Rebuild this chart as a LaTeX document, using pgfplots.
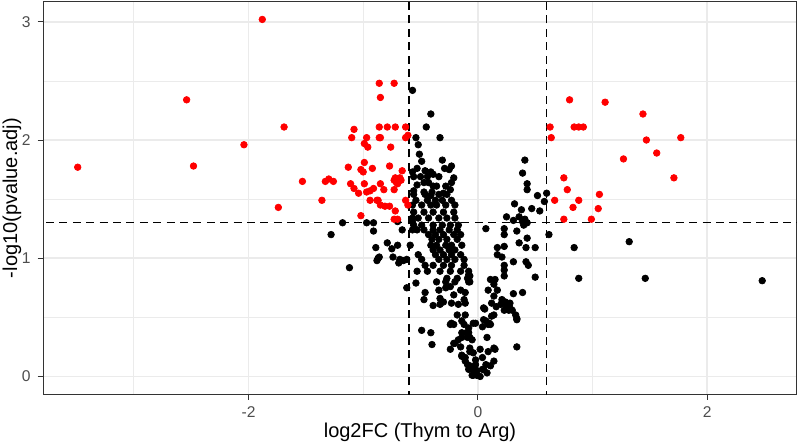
\documentclass[border=0pt]{standalone}
\usepackage{fontspec}
\setmainfont{Liberation Sans}
\usepackage{pgfplots}
\pgfplotsset{compat=1.18}
\definecolor{grid92}{HTML}{EBEBEB}
\definecolor{gray30}{HTML}{4D4D4D}
\definecolor{gray20}{HTML}{333333}
\definecolor{ptred}{HTML}{FF0000}
\begin{document}
\begin{tikzpicture}
\useasboundingbox (-21.65pt,-25.35pt) rectangle (378.35pt,197.15pt);
\begin{axis}[
  scale only axis, width=376.65pt, height=196.3pt,
  xmin=-3.79, xmax=2.78, ymin=-0.151, ymax=3.17,
  xtick={-2,0,2}, minor xtick={-3,-1,1},
  ytick={0,1,2,3}, minor ytick={0.5,1.5,2.5},
  grid=both,
  major grid style={grid92, line width=0.75pt},
  minor grid style={grid92, line width=0.4pt},
  tick pos=left, tick align=outside,
  major tick length=2.8pt, minor tick length=0pt,
  tick style={gray20, line width=0.5pt},
  axis line style={gray20, line width=0.5pt},
  ticklabel style={font=\fontsize{7.8}{9}\selectfont, text=gray30},
  /pgf/number format/assume math mode=true,
  xlabel={log2FC (Thym to Arg)}, ylabel={-log10(pvalue.adj)},
  label style={font=\fontsize{9.7}{11}\selectfont},
  every axis x label/.style={at={(axis description cs:0.5,-0.096)}, anchor=center},
  every axis y label/.style={at={(axis description cs:-0.0416,0.5)}, anchor=center, rotate=90},
]
% non-significant points
\addplot[black, only marks, mark=*, mark size=1.65pt, mark options={solid, fill=black, draw=black, line width=0.35pt}] table {
x y
-1.18 1.30
-1.28 1.20
-1.12 0.92
-0.97 1.30
-0.91 1.30
-0.91 1.23
-0.89 1.09
-0.79 1.13
-0.75 1.08
-0.87 1.00
-0.88 0.98
-0.86 1.01
-0.74 1.01
-0.70 1.11
-0.69 0.96
-0.68 0.99
-0.65 0.98
-0.62 0.99
-0.66 1.24
-0.70 1.31
-0.62 0.75
-0.57 2.42
-0.41 2.22
-0.45 2.11
-0.33 2.02
-0.54 2.02
-0.52 1.96
-0.51 1.88
-0.49 1.82
-0.31 1.83
-0.57 1.73
-0.53 1.76
-0.46 1.74
-0.41 1.73
-0.39 1.71
-0.29 1.76
-0.23 1.78
-0.25 1.75
-0.56 1.69
-0.50 1.69
-0.44 1.69
-0.21 1.68
-0.34 1.69
-0.53 1.62
-0.47 1.64
-0.43 1.64
-0.39 1.61
-0.56 1.57
-0.47 1.56
-0.40 1.56
-0.30 1.55
-0.24 1.58
-0.23 1.64
-0.36 1.61
-0.28 1.61
-0.56 1.54
-0.46 1.54
-0.41 1.53
-0.34 1.54
-0.27 1.54
-0.54 1.49
-0.44 1.49
-0.37 1.49
-0.31 1.49
-0.23 1.49
-0.57 1.45
-0.49 1.45
-0.41 1.45
-0.36 1.45
-0.28 1.45
-0.20 1.45
-0.56 1.39
-0.47 1.39
-0.39 1.39
-0.30 1.39
-0.21 1.39
-0.57 1.34
-0.52 1.34
-0.43 1.34
-0.34 1.34
-0.27 1.34
-0.20 1.34
-0.56 1.28
-0.49 1.28
-0.39 1.28
-0.31 1.28
-0.24 1.28
-0.17 1.28
-0.57 1.24
-0.53 1.24
-0.47 1.24
-0.39 1.24
-0.33 1.24
-0.25 1.24
-0.18 1.24
-0.43 1.20
-0.37 1.20
-0.30 1.20
-0.21 1.20
-0.15 1.20
-0.40 1.16
-0.34 1.16
-0.27 1.16
-0.18 1.16
-0.41 1.11
-0.36 1.11
-0.28 1.11
-0.23 1.11
-0.14 1.11
-0.39 1.07
-0.33 1.07
-0.25 1.07
-0.20 1.07
-0.52 1.03
-0.37 1.03
-0.30 1.03
-0.23 1.03
-0.15 1.03
-0.49 0.99
-0.34 0.99
-0.27 0.99
-0.20 0.99
-0.12 0.99
-0.46 0.94
-0.39 0.94
-0.30 0.94
-0.23 0.94
-0.12 0.94
-0.53 0.89
-0.44 0.89
-0.33 0.89
-0.24 0.89
-0.15 0.89
-0.08 0.89
-0.27 0.83
-0.18 0.83
-0.09 0.83
-0.57 1.31
-0.59 1.11
-0.54 0.79
-0.46 0.71
-0.47 0.65
-0.39 0.60
-0.33 0.61
-0.33 0.66
-0.34 0.73
-0.28 0.75
-0.24 0.76
-0.21 0.69
-0.15 0.73
-0.12 0.65
-0.17 0.61
-0.11 0.71
-0.08 0.80
-0.20 0.80
-0.28 0.80
-0.36 0.80
-0.49 0.39
-0.41 0.37
-0.40 0.27
-0.24 0.23
-0.20 0.28
-0.15 0.25
-0.14 0.33
-0.23 0.45
-0.18 0.52
-0.11 0.52
-0.14 0.47
-0.08 0.41
-0.04 0.45
-0.10 0.37
-0.07 0.33
-0.14 0.17
-0.11 0.13
-0.07 0.09
-0.02 0.06
-0.08 0.06
-0.01 0.01
-0.05 0.01
-0.07 0.21
-0.02 0.14
-0.30 0.63
-0.23 0.62
-0.11 0.62
-0.21 0.44
-0.12 0.44
-0.24 0.44
-0.14 0.37
-0.08 0.37
-0.21 0.28
-0.17 0.31
-0.09 0.33
-0.05 0.31
-0.14 0.18
-0.07 0.24
-0.11 0.16
-0.04 0.20
0.02 0.23
0.04 0.16
0.09 0.21
0.14 0.13
0.11 0.09
-0.09 0.10
-0.05 0.06
-0.01 0.04
0.04 0.06
0.07 0.10
-0.02 0.10
0.02 0.00
-0.04 0.01
0.08 0.03
0.05 0.58
0.12 0.62
0.20 0.61
0.24 0.63
0.28 0.58
0.33 0.52
0.34 0.49
0.14 0.52
0.07 0.47
0.11 0.44
0.08 0.33
0.14 0.24
0.34 0.25
0.04 0.42
0.41 1.83
0.39 1.72
0.43 1.63
0.43 1.58
0.52 1.53
0.60 1.55
0.58 1.48
0.32 1.46
0.38 1.41
0.47 1.42
0.54 1.40
0.25 1.35
0.31 1.32
0.36 1.35
0.39 1.31
0.41 1.33
0.40 1.28
0.43 1.30
0.07 1.25
0.23 1.25
0.34 1.23
0.23 1.20
0.36 1.13
0.43 1.17
0.50 1.09
0.42 1.09
0.62 1.20
0.17 1.09
0.23 1.10
0.17 1.03
0.21 1.01
0.31 0.97
0.42 0.97
0.44 0.94
0.23 0.94
0.23 0.90
0.23 0.85
0.50 0.84
-0.07 0.85
-0.07 0.80
0.11 0.82
0.15 0.82
0.14 0.78
0.09 0.73
0.17 0.73
0.31 0.70
0.39 0.71
0.14 0.68
0.21 0.65
0.28 0.62
0.16 0.59
0.23 0.56
0.27 0.56
0.06 0.57
-0.02 0.45
0.05 0.48
0.09 0.44
0.12 0.51
0.34 0.48
0.15 0.23
0.05 0.06
0.25 0.59
0.30 0.56
0.10 0.45
-0.08 0.86
1.32 1.14
0.84 1.09
0.88 0.83
1.46 0.83
2.48 0.81
};
% significant points
\addplot[ptred, only marks, mark=*, mark size=1.65pt, mark options={solid, fill=ptred, draw=ptred, line width=0.35pt}] table {
x y
-3.49 1.77
-2.54 2.34
-2.48 1.78
-2.04 1.96
-1.88 3.02
-1.69 2.11
-1.74 1.43
-1.53 1.65
-1.36 1.49
-1.33 1.65
-1.30 1.67
-1.26 1.65
-1.13 1.77
-1.10 2.02
-1.08 2.09
-1.11 1.63
-1.08 1.59
-1.04 1.55
-1.02 1.36
-1.02 1.75
-1.00 1.73
-0.99 1.81
-0.99 1.97
-0.97 2.02
-0.96 1.94
-0.99 1.63
-0.97 1.56
-0.94 1.49
-0.92 1.76
-0.94 1.57
-0.91 1.59
-0.86 2.48
-0.85 2.36
-0.86 2.11
-0.86 2.02
-0.85 2.02
-0.85 1.63
-0.88 1.49
-0.85 1.45
-0.82 1.58
-0.81 1.44
-0.79 2.11
-0.77 1.78
-0.76 1.94
-0.77 1.44
-0.73 2.48
-0.72 2.11
-0.73 1.66
-0.73 1.58
-0.72 1.40
-0.73 1.33
-0.70 1.33
-0.70 1.65
-0.63 2.11
-0.61 2.04
-0.63 2.02
-0.72 1.68
-0.68 1.68
-0.71 1.64
-0.67 1.66
-0.66 1.74
-0.87 1.49
-0.63 1.49
-0.61 1.45
-0.70 1.63
0.80 2.34
1.11 2.32
1.44 2.22
0.63 2.11
0.64 2.02
0.84 2.11
0.88 2.11
0.92 2.11
1.47 2.00
1.77 2.02
1.56 1.89
1.27 1.84
1.71 1.68
0.75 1.68
0.78 1.58
0.67 1.49
0.88 1.49
0.83 1.43
1.06 1.54
1.05 1.42
0.75 1.33
0.99 1.33
};
% thresholds
\addplot[black, line width=0.65pt, dash pattern=on 4pt off 2.7pt] coordinates {(-0.6,-0.3) (-0.6,3.4)};
\addplot[black, line width=0.65pt, dash pattern=on 4pt off 2.7pt] coordinates {(0.6,-0.3) (0.6,3.4)};
\addplot[black, line width=0.65pt, dash pattern=on 4pt off 2.7pt] coordinates {(-4,1.301) (3,1.301)};
\end{axis}
\end{tikzpicture}
\end{document}
